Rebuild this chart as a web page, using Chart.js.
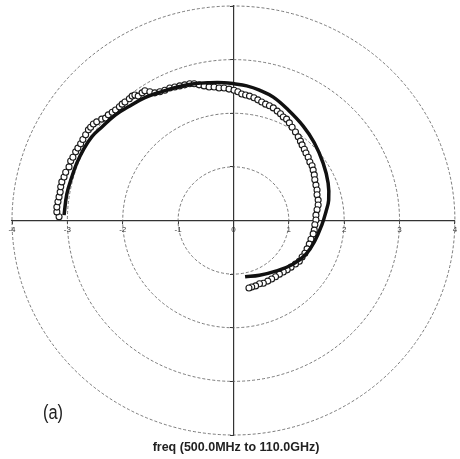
<!DOCTYPE html>
<html>
<head>
<meta charset="utf-8">
<script src="https://cdn.jsdelivr.net/npm/chart.js@4.4.1/dist/chart.umd.min.js"></script>
<style>
  html, body { margin: 0; padding: 0; background: #fff; }
  #wrap { width: 460px; height: 459px; }
</style>
</head>
<body>
<div id="wrap"><canvas id="polar"></canvas></div>
<script>
// ring radii of the polar grid and axis range
var gridRadii = [1, 2, 3, 4];
var axisMin = -4, axisMax = 4;

// fitted model curve (real / imaginary)
var modelX = [-3.06,-3.01,-2.92,-2.83,-2.71,-2.56,-2.38,-2.13,-1.90,-1.60,-1.31,-1.01,-0.71,-0.42,-0.17,0.01,0.24,0.47,0.72,0.99,1.26,1.46,1.62,1.71,1.72,1.67,1.60,1.47,1.31,1.08,0.78,0.47,0.21];
var modelY = [0.10,0.49,0.81,1.07,1.32,1.56,1.74,1.97,2.12,2.29,2.40,2.49,2.55,2.57,2.57,2.55,2.51,2.43,2.30,2.06,1.76,1.45,1.07,0.70,0.38,0.16,-0.07,-0.38,-0.63,-0.81,-0.94,-1.02,-1.05];

// measured sweep, 500 MHz to 110 GHz
var measX = [-3.15,-3.19,-3.19,-3.17,-3.15,-3.13,-3.12,-3.10,-3.06,-3.03,-2.97,-2.94,-2.90,-2.85,-2.81,-2.76,-2.72,-2.67,-2.62,-2.58,
  -2.53,-2.47,-2.38,-2.31,-2.26,-2.19,-2.13,-2.06,-2.01,-1.96,-1.88,-1.83,-1.78,-1.72,-1.65,-1.60,-1.51,-1.42,-1.33,-1.24,
  -1.15,-1.06,-0.97,-0.88,-0.79,-0.71,-0.62,-0.53,-0.44,-0.35,-0.26,-0.17,-0.08,0.01,0.08,0.15,0.22,0.29,0.37,0.44,
  0.51,0.58,0.65,0.72,0.79,0.85,0.90,0.96,1.01,1.06,1.12,1.17,1.21,1.24,1.28,1.31,1.35,1.38,1.42,1.44,
  1.46,1.47,1.49,1.51,1.51,1.53,1.53,1.51,1.49,1.49,1.47,1.46,1.44,1.40,1.37,1.33,1.29,1.24,1.19,1.12,
  1.04,0.97,0.90,0.83,0.76,0.69,0.62,0.54,0.47,0.40,0.33,0.28];
var measY = [0.07,0.16,0.25,0.35,0.44,0.53,0.63,0.72,0.81,0.90,1.00,1.11,1.18,1.28,1.35,1.43,1.51,1.60,1.69,1.74,
  1.80,1.84,1.89,1.91,1.97,2.02,2.06,2.12,2.17,2.21,2.27,2.32,2.34,2.32,2.38,2.42,2.40,2.38,2.40,2.43,
  2.47,2.49,2.51,2.53,2.55,2.55,2.53,2.51,2.49,2.49,2.47,2.47,2.45,2.43,2.40,2.36,2.34,2.32,2.29,2.25,
  2.21,2.17,2.14,2.10,2.04,1.99,1.93,1.89,1.82,1.74,1.65,1.56,1.48,1.41,1.33,1.26,1.18,1.09,1.02,0.94,
  0.85,0.76,0.66,0.57,0.48,0.38,0.29,0.20,0.10,0.01,-0.08,-0.18,-0.25,-0.35,-0.44,-0.53,-0.61,-0.68,-0.76,-0.81,
  -0.87,-0.92,-0.96,-1.00,-1.05,-1.09,-1.13,-1.17,-1.18,-1.22,-1.24,-1.26];

function toPoints(xs, ys) {
  return xs.map(function (x, i) { return { x: x, y: ys[i] }; });
}

// dashed rings drawn through the x/y scales, plus the panel letter
var rings = {
  id: 'rings',
  beforeDatasetsDraw: function (chart) {
    var sx = chart.scales.x, sy = chart.scales.y, ctx = chart.ctx;
    var cx = sx.getPixelForValue(0), cy = sy.getPixelForValue(0);
    ctx.save();
    ctx.strokeStyle = '#5a5a5a';
    ctx.lineWidth = 0.8;
    ctx.setLineDash([3, 2]);
    gridRadii.forEach(function (r) {
      var rx = sx.getPixelForValue(r) - cx;
      var ry = cy - sy.getPixelForValue(r);
      ctx.beginPath();
      ctx.ellipse(cx, cy, rx, ry, 0, 0, Math.PI * 2);
      ctx.stroke();
    });
    ctx.restore();
  },
  afterDraw: function (chart) {
    var ctx = chart.ctx;
    ctx.save();
    ctx.fillStyle = '#222';
    ctx.font = '20px "Liberation Sans", sans-serif';
    ctx.translate(43, 419);
    ctx.scale(0.82, 1);
    ctx.fillText('(a)', 0, 0);
    ctx.restore();
  }
};

new Chart(document.getElementById('polar'), {
  type: 'scatter',
  data: {
    datasets: [{
      label: 'model',
      data: toPoints(modelX, modelY),
      showLine: true,
      tension: 0.4,
      pointRadius: 0,
      borderColor: '#111',
      borderWidth: 3.5,
      fill: false
    }, {
      label: 'measured',
      data: toPoints(measX, measY),
      pointStyle: 'circle',
      pointRadius: 3,
      pointBorderWidth: 1.1,
      borderColor: '#1a1a1a',
      backgroundColor: '#fff'
    }]
  },
  options: {
    responsive: true,
    maintainAspectRatio: false,
    animation: false,
    layout: { padding: { left: 12, right: 0, top: 6, bottom: 0 } },
    plugins: {
      legend: { display: false },
      tooltip: { enabled: false },
      title: {
        display: true,
        position: 'bottom',
        text: 'freq (500.0MHz to 110.0GHz)',
        color: '#222',
        font: { family: '"Liberation Sans", Arial, sans-serif', size: 12.5, weight: 'bold' },
        padding: { top: 5, bottom: 4 }
      }
    },
    scales: {
      x: {
        type: 'linear',
        min: axisMin,
        max: axisMax,
        position: { y: 0 },
        grid: { drawOnChartArea: false, drawTicks: true, tickLength: 3, color: '#333' },
        border: { color: '#333', dash: [1, 1], width: 1.2 },
        ticks: {
          stepSize: 1,
          autoSkip: false,
          maxRotation: 0,
          padding: 1,
          color: '#333',
          font: { family: '"Liberation Sans", Arial, sans-serif', size: 8 }
        }
      },
      y: {
        type: 'linear',
        min: axisMin,
        max: axisMax,
        position: { x: 0 },
        grid: { drawOnChartArea: false, drawTicks: true, tickLength: 3, color: '#333' },
        border: { color: '#333', dash: [1, 1], width: 1.2 },
        ticks: { stepSize: 1, display: false }
      }
    }
  },
  plugins: [rings]
});
</script>
</body>
</html>
